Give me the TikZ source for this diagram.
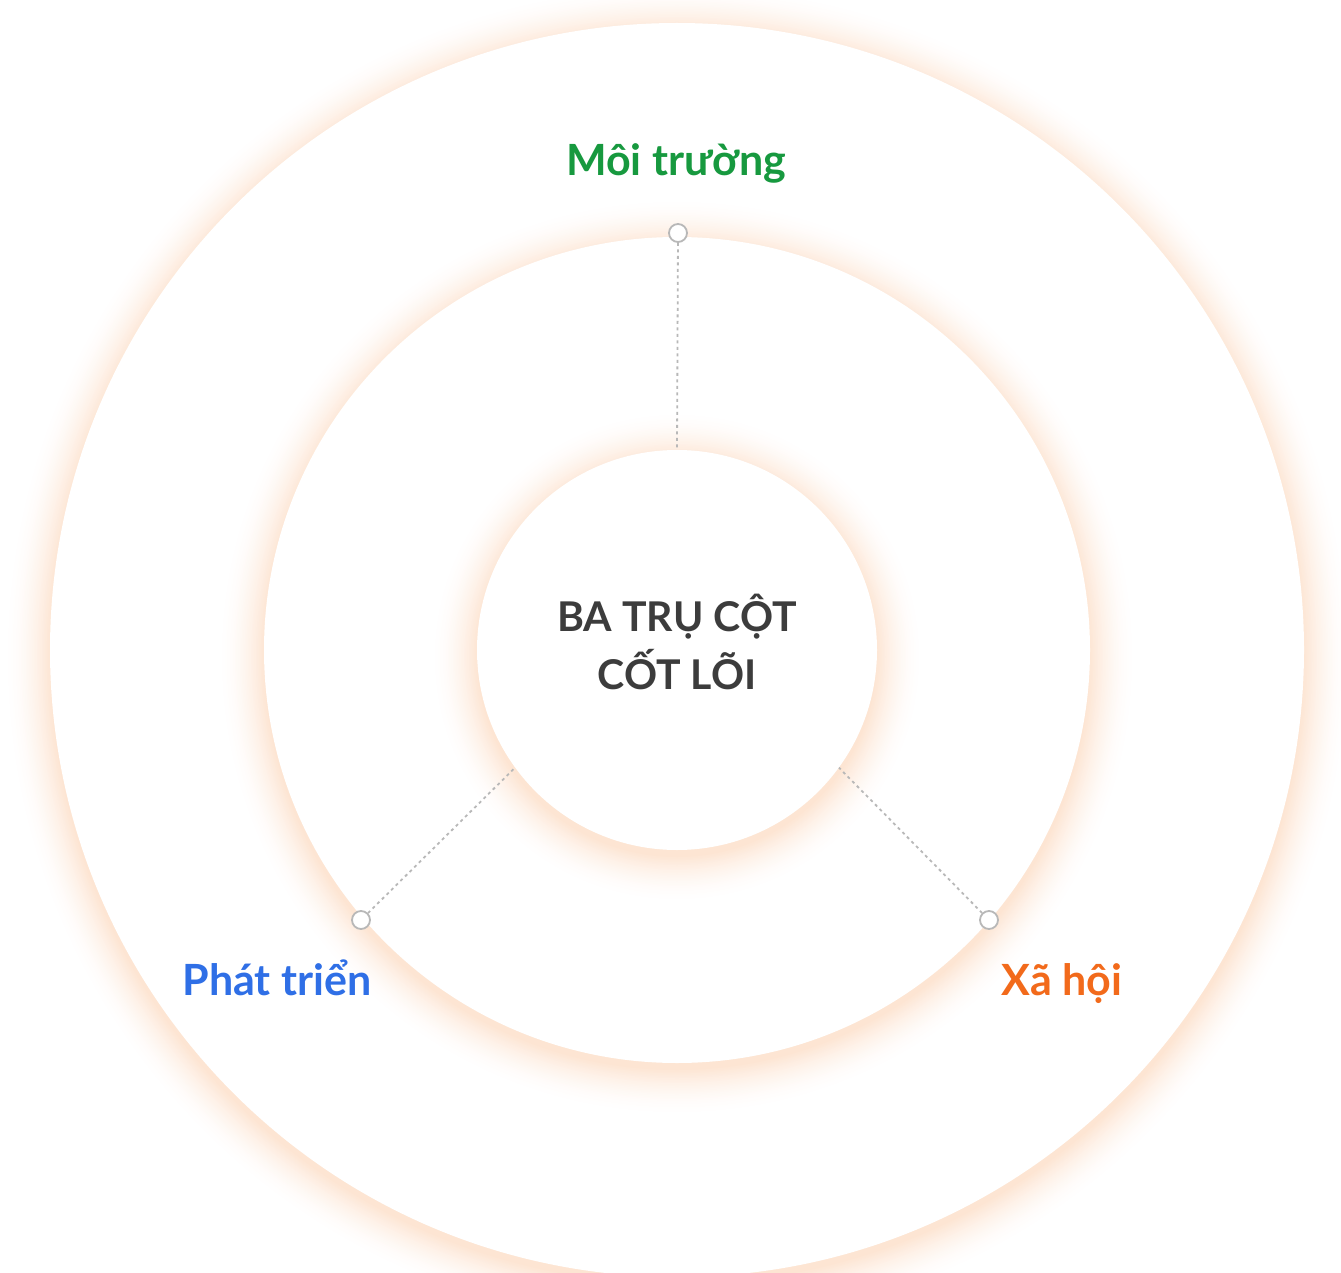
\documentclass[tikz,border=0pt]{standalone}
\usepackage{fontspec}
\setmainfont{Lato}
\usetikzlibrary{calc}
\definecolor{glowpeak}{HTML}{FDE5D3}
\definecolor{envgreen}{HTML}{17993F}
\definecolor{devblue}{HTML}{2F6FE6}
\definecolor{socorange}{HTML}{F26A1B}
\definecolor{coretext}{HTML}{3C3C3C}
\definecolor{linegray}{HTML}{B8B8B8}
\tikzset{
  marker/.style={circle, draw=linegray, fill=white, line width=1.8pt, minimum size=18pt, inner sep=0pt},
  conn/.style={draw=linegray, line width=1.8pt, dash pattern=on 3pt off 3.5pt},
  lab/.style={font=\fontsize{43}{50}\selectfont\bfseries, anchor=base, inner sep=0pt},
  coretxt/.style={font=\fontsize{41}{58}\selectfont\bfseries, text=coretext, align=center}
}
\begin{document}
\begin{tikzpicture}[x=1pt,y=-1pt]
\useasboundingbox (0,0) rectangle (1341,1273);
\clip (0,0) rectangle (1341,1273);
\fill[white] (0,0) rectangle (1341,1273);
\coordinate (c) at (677,650);
\foreach \R in {627,413,200}{
  \foreach \k in {28,...,0}{
    \pgfmathsetmacro\p{100*(1-\k/29)^1.8}
    \fill[glowpeak!\p!white] ($(c)+(0,7)$) circle[radius={\R pt+1.6pt*\k}];
  }
  \fill[white] (c) circle[radius={\R pt}];
}
\node[circle, minimum size=400pt, inner sep=0pt] (core) at (c) {};
\node[coretxt] (coretitle) at (677,642) {BA TRỤ CỘT\\CỐT LÕI};
\node[marker] (mt) at (678,233) {};
\node[marker] (ml) at (361,920) {};
\node[marker] (mr) at (989,920) {};
\draw[conn] (mt) -- (core.90);
\draw[conn] (ml) -- (core.216);
\draw[conn] (mr) -- (core.-36);
\node[lab, text=envgreen] (lmt) at (676,176) {Môi trường};
\node[lab, text=devblue] (lpt) at (277,995) {Phát triển};
\node[lab, text=socorange] (lxh) at (1062,995) {Xã hội};
\end{tikzpicture}
\end{document}
